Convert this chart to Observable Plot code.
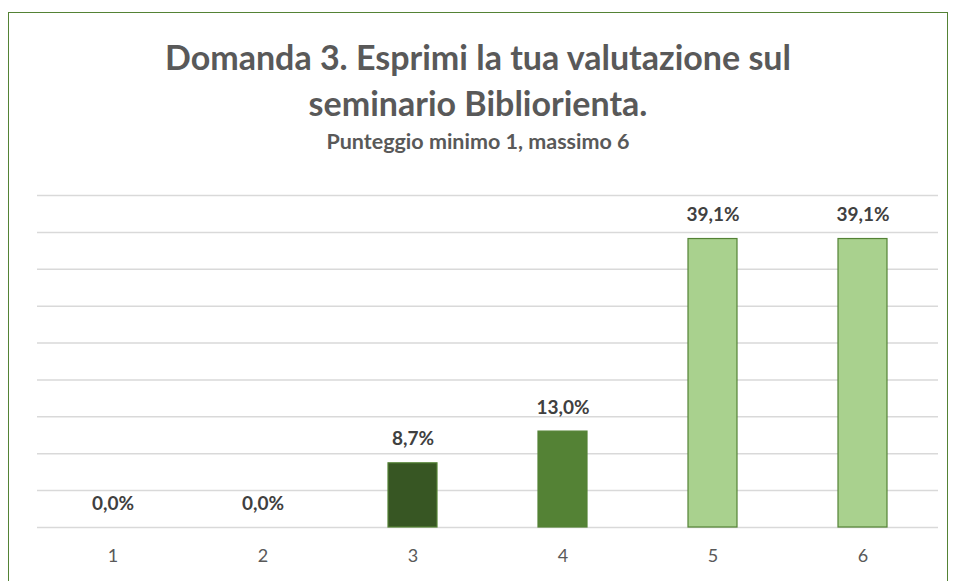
<!DOCTYPE html>
<html>
<head>
<meta charset="utf-8">
<script src="https://cdn.jsdelivr.net/npm/d3@7"></script>
<script src="https://cdn.jsdelivr.net/npm/@observablehq/plot@0.6"></script>
<style>
  html, body { margin: 0; padding: 0; background: #fff; overflow: hidden; }
  #frame {
    position: absolute; left: 8px; top: 12px; width: 940px; height: 620px;
    border: 1.5px solid #548235; box-sizing: border-box; background: #fff;
  }
  #title {
    position: absolute; left: 0; top: 34px; width: 956px; text-align: center;
    font-family: Lato, "Open Sans", sans-serif; font-weight: bold; font-size: 34px;
    line-height: 46px; color: #595959;
  }
  #subtitle {
    position: absolute; left: 0; top: 128px; width: 956px; text-align: center;
    font-family: Lato, "Open Sans", sans-serif; font-weight: bold; font-size: 21.5px;
    color: #595959;
  }
  #chart { position: absolute; left: 0; top: 170px; }
</style>
</head>
<body>
<div id="frame"></div>
<div id="title">Domanda 3. Esprimi la tua valutazione sul<br>seminario Bibliorienta.</div>
<div id="subtitle">Punteggio minimo 1, massimo 6</div>
<div id="chart"></div>
<script>
const categories = ["1", "2", "3", "4", "5", "6"];
const values = [0.0, 0.0, 8.7, 13.0, 39.1, 39.1];
const valueLabels = ["0,0%", "0,0%", "8,7%", "13,0%", "39,1%", "39,1%"];
const barColors = ["#375623", "#375623", "#375623", "#548235", "#A9D18E", "#A9D18E"];
const yTicks = [0, 5, 10, 15, 20, 25, 30, 35, 40, 45];

const data = categories.map((c, i) => ({cat: c, value: values[i], label: valueLabels[i], color: barColors[i]}));

const chart = Plot.plot({
  width: 956,
  height: 411,
  marginLeft: 37,
  marginRight: 18,
  marginTop: 25,
  marginBottom: 54,
  style: {fontFamily: "Lato, 'Open Sans', sans-serif", background: "transparent"},
  x: {domain: categories, paddingInner: 0.67, paddingOuter: 0.335, label: null},
  y: {domain: [0, 45], label: null},
  color: {type: "identity"},
  marks: [
    Plot.ruleY(yTicks, {stroke: "#d9d9d9", strokeWidth: 1.5}),
    Plot.barY(data, {x: "cat", y: "value", fill: "color", stroke: "#548235", strokeWidth: 1.2}),
    Plot.text(data, {x: "cat", y: "value", text: "label", dy: -24, fontSize: 19, fontWeight: "bold", fill: "#404040"}),
    Plot.axisX({tickSize: 0, tickPadding: 22, fontSize: 18, color: "#595959", label: null}),
    Plot.axisY({ticks: [], label: null, tickSize: 0})
  ]
});
document.getElementById("chart").appendChild(chart);
</script>
</body>
</html>
